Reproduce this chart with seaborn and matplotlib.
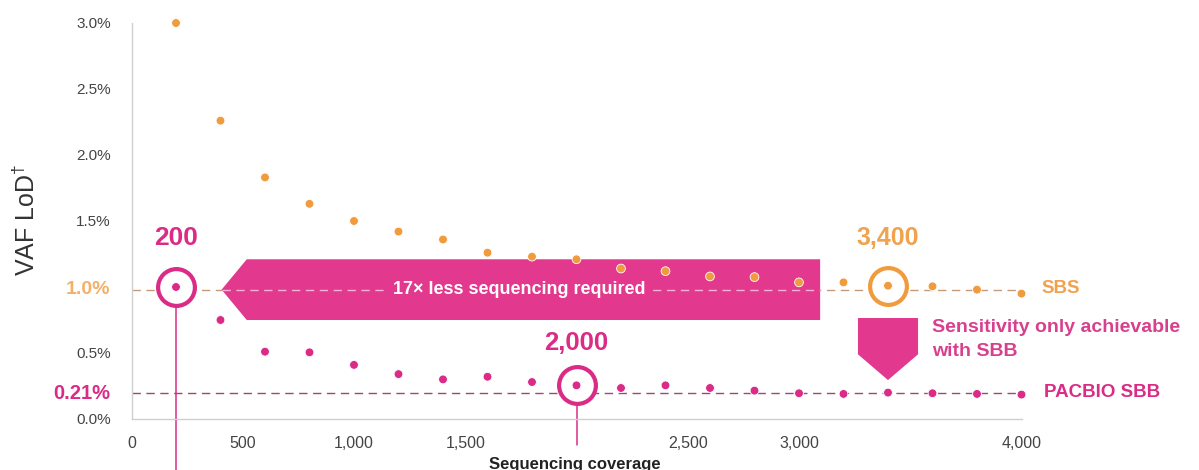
import matplotlib
matplotlib.use("Agg")
import numpy as np
import pandas as pd
import matplotlib.pyplot as plt
import seaborn as sns
from matplotlib.patches import Polygon

# ---------------- data ----------------
coverage = [200, 400, 600, 800, 1000, 1200, 1400, 1600, 1800, 2000,
            2200, 2400, 2600, 2800, 3000, 3200, 3400, 3600, 3800, 4000]
sbs_lod = [3.0, 2.26, 1.83, 1.63, 1.50, 1.42, 1.36, 1.26, 1.23, 1.21,
           1.14, 1.12, 1.08, 1.075, 1.035, 1.035, 1.01, 1.005, 0.98, 0.95]
sbb_lod = [1.0, 0.75, 0.51, 0.505, 0.41, 0.34, 0.30, 0.32, 0.28, 0.255,
           0.235, 0.255, 0.235, 0.215, 0.195, 0.19, 0.20, 0.195, 0.19, 0.185]
series_names = ["SBS", "PACBIO SBB"]

sbs_threshold = 1.0
sbb_threshold = 0.21
sbb_at_sbs_level = 200     # coverage where SBB reaches 1.0%
sbb_highlight = 2000
sbs_at_level = 3400        # coverage where SBS reaches 1.0%

x_ticks = [0, 500, 1000, 1500, 2500, 3000, 4000]
x_tick_labels = ["0", "500", "1,000", "1,500", "2,500", "3,000", "4,000"]
y_ticks = [0.0, 0.21, 0.5, 1.0, 1.5, 2.0, 2.5, 3.0]
y_tick_labels = ["0.0%", "0.21%", "0.5%", "1.0%", "1.5%", "2.0%", "2.5%", "3.0%"]

arrow_text = "17\u00d7 less sequencing required"
sens_text = "Sensitivity only achievable\nwith SBB"

# ---------------- style ----------------
PINK = "#DA2C86"
ARROW_PINK = "#E2388E"
ORANGE = "#F09B3E"
ORANGE_TXT = "#F0A24E"
GRAY = "#444444"

sns.set_theme(style="white")
plt.rcParams["font.family"] = ["Liberation Sans", "DejaVu Sans"]
plt.rcParams["mathtext.fontset"] = "custom"
plt.rcParams["mathtext.rm"] = "Liberation Sans"
plt.rcParams["mathtext.it"] = "Liberation Sans"

W, H = 1199, 470
fig = plt.figure(figsize=(W / 100, H / 100), dpi=100)
ax = fig.add_axes([131.5 / W, 51 / H, 890 / W, 396 / H])

df = pd.DataFrame({
    "coverage": coverage * 2,
    "lod": sbs_lod + sbb_lod,
    "series": [series_names[0]] * len(coverage) + [series_names[1]] * len(coverage),
})

# reference dashed lines
ax.plot([0, coverage[-1]], [sbs_threshold - 0.02] * 2, ls=(0, (6, 4)), lw=1.0,
        color="#C49A78", zorder=2)
ax.plot([0, coverage[-1]], [sbb_threshold - 0.015] * 2, ls=(0, (6, 4)), lw=1.0,
        color="#A24478", zorder=2)

# big left-pointing arrow
ymid = sbs_threshold - 0.02
half = 0.23
x_tip, x_shoulder, x_end = 405, 518, 3095
arrow = Polygon([[x_tip, ymid], [x_shoulder, ymid + half], [x_end, ymid + half],
                 [x_end, ymid - half], [x_shoulder, ymid - half]],
                closed=True, facecolor=ARROW_PINK, edgecolor="none", zorder=3)
ax.add_patch(arrow)
ax.plot([x_tip, x_end], [ymid] * 2, ls=(0, (6, 4)), lw=1.0, color="#F6B3D3", zorder=3.2)
ax.text(1742, ymid, arrow_text, ha="center", va="center",
        color="white", fontsize=13, fontweight="bold", zorder=5,
        bbox=dict(boxstyle="square,pad=0.2", facecolor=ARROW_PINK, edgecolor="none"))

# downward pentagon arrow
dx0, dx1 = sbs_at_level - 135, sbs_at_level + 135
down = Polygon([[dx0, 0.765], [dx1, 0.765], [dx1, 0.49], [sbs_at_level, 0.295],
                [dx0, 0.49]], closed=True, facecolor=ARROW_PINK, edgecolor="none", zorder=3)
ax.add_patch(down)

# vertical guide lines from highlighted points
i200 = coverage.index(sbb_at_sbs_level)
i2000 = coverage.index(sbb_highlight)
i3400 = coverage.index(sbs_at_level)
ax.plot([sbb_at_sbs_level] * 2, [sbb_lod[i200], -0.40], color=PINK, lw=1.1,
        zorder=2.5, clip_on=False)
ax.plot([sbb_highlight] * 2, [sbb_lod[i2000], -0.20], color=PINK, lw=1.1,
        zorder=2.5, clip_on=False)

# rings
ax.plot([sbb_at_sbs_level, sbb_highlight], [sbb_lod[i200], sbb_lod[i2000]], "o",
        ms=26.5, mfc="white", mec=PINK, mew=3.0, zorder=3.5, clip_on=False)
ax.plot([sbs_at_level], [sbs_lod[i3400]], "o",
        ms=26.5, mfc="white", mec=ORANGE, mew=3.0, zorder=3.5, clip_on=False)

# dots
sns.scatterplot(data=df, x="coverage", y="lod", hue="series",
                palette={series_names[0]: ORANGE, series_names[1]: PINK},
                s=40, edgecolor="white", linewidth=0.6, legend=False, ax=ax, zorder=4)
for c in ax.collections:
    c.set_clip_on(False)

# annotation labels
ax.text(sbb_at_sbs_level, 1.37, "200", ha="center", va="center", color=PINK,
        fontsize=19, fontweight="bold", zorder=6)
ax.text(sbb_highlight, 0.576, "2,000", ha="center", va="center", color=PINK,
        fontsize=18.5, fontweight="bold", zorder=6)
ax.text(sbs_at_level, 1.37, "3,400", ha="center", va="center", color=ORANGE_TXT,
        fontsize=18, fontweight="bold", zorder=6)
ax.text(4092, 0.985, series_names[0], ha="left", va="center", color=ORANGE_TXT,
        fontsize=13.5, fontweight="bold", clip_on=False)
ax.text(4100, 0.20, series_names[1], ha="left", va="center", color=PINK,
        fontsize=13.5, fontweight="bold", clip_on=False)
ax.text(3597, 0.60, sens_text, ha="left", va="center", color="#D8408E",
        fontsize=14, fontweight="bold", linespacing=1.55, clip_on=False)

# axes
ax.set_xlim(0, 4000)
ax.set_ylim(0, 3.0)
ax.set_xticks(x_ticks)
ax.set_xticklabels(x_tick_labels)
ax.set_yticks(y_ticks)
ax.set_yticklabels(y_tick_labels)
ax.tick_params(axis="x", length=0, pad=12, labelsize=11.5, labelcolor=GRAY)
ax.tick_params(axis="y", length=0, pad=15, labelsize=11, labelcolor=GRAY)
for lab in ax.get_yticklabels():
    if lab.get_text() == "0.21%":
        lab.set_color(PINK); lab.set_fontweight("bold"); lab.set_fontsize(14.5)
    if lab.get_text() == "1.0%":
        lab.set_color("#F3B068"); lab.set_fontweight("bold"); lab.set_fontsize(14)
ax.set_xlabel("")
ax.set_ylabel("")
for s in ["top", "right"]:
    ax.spines[s].set_visible(False)
for s in ["left", "bottom"]:
    ax.spines[s].set_color("#CFCFCF")
    ax.spines[s].set_linewidth(1.0)

fig.text(26 / W, 1 - 220 / H, r"VAF LoD$^{\dagger}$", rotation=90, ha="center",
         va="center", fontsize=18, color="#333333")
fig.text(575 / W, 1 / H, "Sequencing coverage", ha="center", va="baseline",
         fontsize=12, fontweight="bold", color="#222222")

fig.savefig("out.png", dpi=100)
